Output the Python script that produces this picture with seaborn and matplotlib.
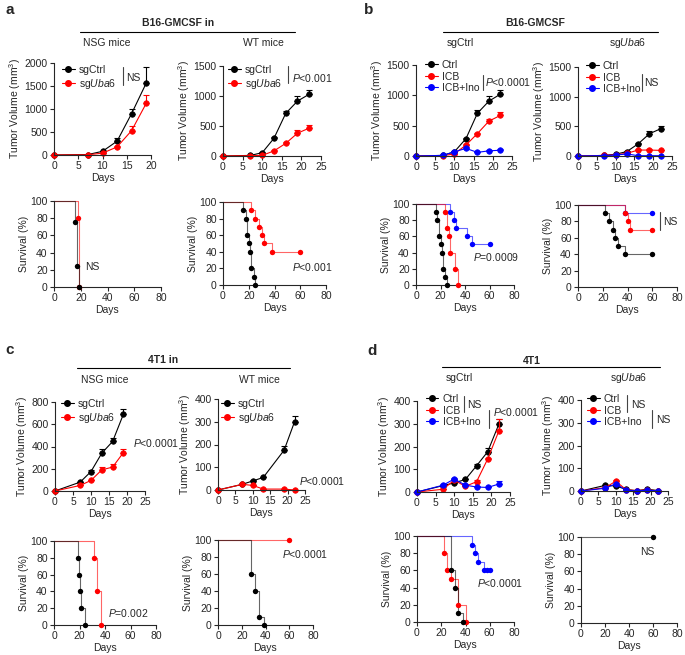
import numpy as np
import matplotlib
matplotlib.use("Agg")
import matplotlib.pyplot as plt
import seaborn as sns
from matplotlib.lines import Line2D

sns.set_style("ticks")
plt.rcParams["font.family"] = ["Liberation Sans", "DejaVu Sans"]
plt.rcParams["mathtext.fontset"] = "custom"
plt.rcParams["mathtext.rm"] = "Liberation Sans"
plt.rcParams["mathtext.it"] = "Liberation Sans:italic"
plt.rcParams["mathtext.bf"] = "Liberation Sans:bold"

BLACK, RED, BLUE = "#000000", "#ff0000", "#0000ff"
UBA6 = "sg$\\it{Uba6}$"

## ---- data: tumour growth (mean, upper error) ----
days_6 = [0, 7, 10, 13, 16, 19]
days_7 = [0, 7, 10, 13, 16, 19, 22]

a_nsg_ctrl = [0, 10, 80, 300, 900, 1560]
a_nsg_ctrl_err = [0, 0, 10, 60, 100, 360]
a_nsg_uba6 = [0, 5, 40, 175, 530, 1120]
a_nsg_uba6_err = [0, 0, 0, 20, 110, 190]

a_wt_ctrl = [0, 10, 55, 295, 710, 915, 1030]
a_wt_ctrl_err = [0, 0, 10, 15, 40, 90, 70]
a_wt_uba6 = [0, 5, 10, 85, 210, 380, 465]
a_wt_uba6_err = [0, 0, 0, 10, 20, 50, 50]

b_ctrl_ctrl = [0, 10, 70, 285, 705, 905, 1020]
b_ctrl_ctrl_err = [0, 0, 10, 15, 50, 90, 70]
b_ctrl_icb = [0, 5, 35, 180, 370, 575, 670]
b_ctrl_icb_err = [0, 0, 5, 10, 15, 35, 50]
b_ctrl_ino = [0, 10, 70, 125, 60, 85, 95]
b_ctrl_ino_err = [0, 0, 5, 30, 10, 15, 25]

b_uba_ctrl = [0, 10, 30, 75, 205, 375, 460]
b_uba_ctrl_err = [0, 0, 5, 10, 20, 40, 50]
b_uba_icb = [0, 10, 20, 45, 100, 100, 95]
b_uba_icb_err = [0, 0, 0, 5, 10, 10, 10]
b_uba_ino = [0, 8, 15, 35, 5, 5, 5]
b_uba_ino_err = [0, 0, 0, 5, 0, 0, 0]

days_c_wt = [0, 7, 10, 13, 19, 22]
c_nsg_ctrl = [0, 80, 175, 340, 445, 690]
c_nsg_ctrl_err = [0, 5, 15, 35, 30, 45]
c_nsg_uba6 = [0, 50, 95, 190, 215, 345]
c_nsg_uba6_err = [0, 5, 5, 25, 25, 30]
c_wt_ctrl = [0, 25, 40, 55, 175, 300]
c_wt_ctrl_err = [0, 3, 3, 3, 20, 25]
c_wt_uba6 = [0, 25, 20, 4, 4, 0]
c_wt_uba6_err = [0, 3, 3, 0, 0, 0]

d_ctrl_ctrl = [0, 28, 40, 55, 115, 177, 298]
d_ctrl_ctrl_err = [0, 3, 5, 3, 10, 18, 25]
d_ctrl_icb = [0, 12, 52, 25, 45, 145, 268]
d_ctrl_icb_err = [0, 3, 5, 3, 8, 5, 55]
d_ctrl_ino = [0, 30, 57, 30, 22, 20, 35]
d_ctrl_ino_err = [0, 3, 3, 3, 3, 3, 12]

d_uba_ctrl = [0, 25, 22, 7, 1, 8, 2]
d_uba_ctrl_err = [0, 3, 5, 0, 0, 2, 0]
d_uba_icb = [0, 15, 43, 5, 2, 5, 1]
d_uba_icb_err = [0, 3, 5, 0, 0, 0, 0]
d_uba_ino = [0, 12, 32, 3, 1, 3, 1]
d_uba_ino_err = [0, 0, 3, 0, 0, 0, 0]

## ---- data: survival (time, % surviving) ----
a_nsg_surv_ctrl_t, a_nsg_surv_ctrl_s = [0, 16, 17, 19], [100, 75, 25, 0]
a_nsg_surv_uba6_t, a_nsg_surv_uba6_s = [0, 18, 19], [100, 80, 0]
a_wt_surv_ctrl_t = [0, 15.5, 17.5, 19, 20, 21, 22, 24, 25]
a_wt_surv_ctrl_s = [100, 90, 80, 60, 50, 40, 20, 10, 0]
a_wt_surv_uba6_t = [0, 22, 25, 28, 30, 32, 38, 60]
a_wt_surv_uba6_s = [100, 90, 80, 70, 60, 50, 40, 40]

b_ctrl_surv_ctrl_t = [0, 16, 17.5, 19, 20, 21, 22, 24, 25]
b_ctrl_surv_ctrl_s = [100, 90, 80, 60, 50, 40, 20, 10, 0]
b_ctrl_surv_icb_t = [0, 24, 25, 27, 28, 32, 34]
b_ctrl_surv_icb_s = [100, 90, 70, 60, 40, 20, 0]
b_ctrl_surv_ino_t = [0, 28, 31, 33, 42, 46, 60]
b_ctrl_surv_ino_s = [100, 90, 80, 70, 60, 50, 50]
b_uba_surv_ctrl_t = [0, 22, 25, 28, 30, 32, 38, 60]
b_uba_surv_ctrl_s = [100, 90, 80, 70, 60, 50, 40, 40]
b_uba_surv_icb_t, b_uba_surv_icb_s = [0, 38, 40, 42, 60], [100, 90, 80, 70, 70]
b_uba_surv_ino_t, b_uba_surv_ino_s = [0, 38, 60], [100, 90, 90]

c_nsg_surv_ctrl_t = [0, 18.5, 19.5, 20.5, 21.5, 24.5]
c_nsg_surv_ctrl_s = [100, 80, 60, 40, 20, 0]
c_nsg_surv_uba6_t, c_nsg_surv_uba6_s = [0, 31, 34, 37], [100, 80, 40, 0]
c_wt_surv_ctrl_t, c_wt_surv_ctrl_s = [0, 28, 31.5, 34.5, 38.5], [100, 60, 40, 10, 0]
c_wt_surv_uba6_t, c_wt_surv_uba6_s = [0, 60], [100, 100]

d_ctrl_surv_icb_t, d_ctrl_surv_icb_s = [0, 22, 25, 28, 34, 40], [100, 80, 60, 50, 20, 0]
d_ctrl_surv_ctrl_t, d_ctrl_surv_ctrl_s = [0, 28, 31, 34, 38], [100, 60, 40, 10, 0]
d_ctrl_surv_ino_t = [0, 45, 47.5, 50, 55, 57.5, 60]
d_ctrl_surv_ino_s = [100, 90, 80, 70, 60, 60, 60]
d_uba_surv_ctrl_t, d_uba_surv_ctrl_s = [0, 60], [100, 100]

## ---- figure helpers (pixel coords of the 685x655 canvas) ----
W, H = 685, 655
fig = plt.figure(figsize=(6.85, 6.55), dpi=100)
FS = 7.5


def add_ax(x0, x1, y0, y1):
    return fig.add_axes([x0 / W, 1 - y1 / H, (x1 - x0) / W, (y1 - y0) / H])


def style(ax, xmax, xstep, ymax, ystep, ylabel):
    ax.set_xlim(0, xmax)
    ax.set_ylim(0, ymax)
    ax.set_xticks(np.arange(0, xmax + 1, xstep))
    ax.set_yticks(np.arange(0, ymax + 1, ystep))
    sns.despine(ax=ax)
    for sp in ax.spines.values():
        sp.set_linewidth(0.8)
    ax.tick_params(labelsize=FS, length=3, width=0.8, pad=1.5)
    ax.set_xlabel("Days", fontsize=FS, labelpad=1)
    ax.set_ylabel(ylabel, fontsize=FS, labelpad=1)


def growth(ax, days, curves):
    for vals, errs, color in curves:
        ax.errorbar(days, vals, yerr=[np.zeros(len(errs)), errs], fmt="none",
                    ecolor=color, elinewidth=0.8, capsize=2, capthick=0.8, clip_on=False)
        sns.lineplot(x=days, y=vals, ax=ax, color=color, marker="o", markersize=4,
                     markeredgecolor=color, markeredgewidth=0.5, linewidth=0.8,
                     estimator=None, clip_on=False)


def km(ax, t, s, color):
    sns.lineplot(x=t, y=s, ax=ax, color=color, drawstyle="steps-post", linewidth=0.8,
                 alpha=0.6, estimator=None, sort=False, clip_on=False)
    sns.scatterplot(x=t[1:], y=s[1:], ax=ax, color=color, s=15, linewidth=0,
                    clip_on=False, zorder=3)


def legend(ax, labels, colors, x, y):
    handles = [Line2D([], [], color=c, marker="o", markersize=4, lw=0.8) for c in colors]
    ax.legend(handles, labels, loc="upper left", bbox_to_anchor=(x / W, 1 - y / H),
              bbox_transform=fig.transFigure, frameon=False, fontsize=FS,
              handlelength=1.2, handletextpad=0.4, labelspacing=0.15,
              borderpad=0, borderaxespad=0)


def text(x, y, s, ha="left", **kw):
    fig.text(x / W, 1 - y / H, s, ha=ha, va="center", fontsize=kw.pop("fontsize", FS), **kw)


def vline(x, y0, y1, color="#444444"):
    fig.add_artist(Line2D([x / W, x / W], [1 - y0 / H, 1 - y1 / H],
                          transform=fig.transFigure, color=color, lw=0.8))


def hline(x0, x1, y):
    fig.add_artist(Line2D([x0 / W, x1 / W], [1 - y / H, 1 - y / H],
                          transform=fig.transFigure, color="black", lw=0.8))


TV = "Tumor Volume (mm$^3$)"
SV = "Survival (%)"

## ---- panel a ----
ax = add_ax(54, 151, 63, 155)
growth(ax, days_6, [(a_nsg_ctrl, a_nsg_ctrl_err, BLACK), (a_nsg_uba6, a_nsg_uba6_err, RED)])
style(ax, 20, 5, 2000, 500, TV)
legend(ax, ["sgCtrl", UBA6], [BLACK, RED], 62, 65)

ax = add_ax(223, 321, 66, 156)
growth(ax, days_7, [(a_wt_ctrl, a_wt_ctrl_err, BLACK), (a_wt_uba6, a_wt_uba6_err, RED)])
style(ax, 25, 5, 1500, 500, TV)
legend(ax, ["sgCtrl", UBA6], [BLACK, RED], 228, 65)

ax = add_ax(54, 161, 201, 287)
km(ax, a_nsg_surv_uba6_t, a_nsg_surv_uba6_s, RED)
km(ax, a_nsg_surv_ctrl_t, a_nsg_surv_ctrl_s, BLACK)
style(ax, 80, 20, 100, 20, SV)

ax = add_ax(223, 326, 202, 285)
km(ax, a_wt_surv_uba6_t, a_wt_surv_uba6_s, RED)
km(ax, a_wt_surv_ctrl_t, a_wt_surv_ctrl_s, BLACK)
style(ax, 80, 20, 100, 20, SV)

## ---- panel b ----
ax = add_ax(416, 512, 65, 156)
growth(ax, days_7, [(b_ctrl_ctrl, b_ctrl_ctrl_err, BLACK), (b_ctrl_icb, b_ctrl_icb_err, RED),
                    (b_ctrl_ino, b_ctrl_ino_err, BLUE)])
style(ax, 25, 5, 1500, 500, TV)
legend(ax, ["Ctrl", "ICB", "ICB+Ino"], [BLACK, RED, BLUE], 425, 60)

ax = add_ax(578, 672, 67, 156)
growth(ax, days_7, [(b_uba_ctrl, b_uba_ctrl_err, BLACK), (b_uba_icb, b_uba_icb_err, RED),
                    (b_uba_ino, b_uba_ino_err, BLUE)])
style(ax, 25, 5, 1500, 500, TV)
legend(ax, ["Ctrl", "ICB", "ICB+Ino"], [BLACK, RED, BLUE], 586, 61)

ax = add_ax(416, 514, 204, 285)
km(ax, b_ctrl_surv_ino_t, b_ctrl_surv_ino_s, BLUE)
km(ax, b_ctrl_surv_icb_t, b_ctrl_surv_icb_s, RED)
km(ax, b_ctrl_surv_ctrl_t, b_ctrl_surv_ctrl_s, BLACK)
style(ax, 80, 20, 100, 20, SV)

ax = add_ax(578, 677, 205, 287)
km(ax, b_uba_surv_ino_t, b_uba_surv_ino_s, BLUE)
km(ax, b_uba_surv_icb_t, b_uba_surv_icb_s, RED)
km(ax, b_uba_surv_ctrl_t, b_uba_surv_ctrl_s, BLACK)
style(ax, 80, 20, 100, 20, SV)

## ---- panel c ----
ax = add_ax(55, 145, 402, 491)
growth(ax, days_6, [(c_nsg_ctrl, c_nsg_ctrl_err, BLACK), (c_nsg_uba6, c_nsg_uba6_err, RED)])
style(ax, 25, 5, 800, 200, TV)
legend(ax, ["sgCtrl", UBA6], [BLACK, RED], 61, 399)

ax = add_ax(218, 305, 399, 490)
growth(ax, days_c_wt, [(c_wt_ctrl, c_wt_ctrl_err, BLACK), (c_wt_uba6, c_wt_uba6_err, RED)])
style(ax, 25, 5, 400, 100, TV)
legend(ax, ["sgCtrl", UBA6], [BLACK, RED], 221, 399)

ax = add_ax(54, 156, 541, 625)
km(ax, c_nsg_surv_uba6_t, c_nsg_surv_uba6_s, RED)
km(ax, c_nsg_surv_ctrl_t, c_nsg_surv_ctrl_s, BLACK)
style(ax, 80, 20, 100, 20, SV)

ax = add_ax(218, 313, 540, 625)
km(ax, c_wt_surv_uba6_t, c_wt_surv_uba6_s, RED)
km(ax, c_wt_surv_ctrl_t, c_wt_surv_ctrl_s, BLACK)
style(ax, 80, 20, 100, 20, SV)

## ---- panel d ----
ax = add_ax(417, 510, 401, 492)
growth(ax, days_7, [(d_ctrl_ctrl, d_ctrl_ctrl_err, BLACK), (d_ctrl_icb, d_ctrl_icb_err, RED),
                    (d_ctrl_ino, d_ctrl_ino_err, BLUE)])
style(ax, 25, 5, 400, 100, TV)
legend(ax, ["Ctrl", "ICB", "ICB+Ino"], [BLACK, RED, BLUE], 426, 394)

ax = add_ax(581, 668, 400, 491)
growth(ax, days_7, [(d_uba_ctrl, d_uba_ctrl_err, BLACK), (d_uba_icb, d_uba_icb_err, RED),
                    (d_uba_ino, d_uba_ino_err, BLUE)])
style(ax, 25, 5, 400, 100, TV)
legend(ax, ["Ctrl", "ICB", "ICB+Ino"], [BLACK, RED, BLUE], 587, 394)

ax = add_ax(417, 514, 536, 622)
km(ax, d_ctrl_surv_ino_t, d_ctrl_surv_ino_s, BLUE)
km(ax, d_ctrl_surv_icb_t, d_ctrl_surv_icb_s, RED)
km(ax, d_ctrl_surv_ctrl_t, d_ctrl_surv_ctrl_s, BLACK)
style(ax, 80, 20, 100, 20, SV)

ax = add_ax(581, 677, 537, 623)
km(ax, d_uba_surv_ctrl_t, d_uba_surv_ctrl_s, BLACK)
style(ax, 80, 20, 100, 20, SV)

## ---- headers, letters and stats ----
for x, y, s in [(5, 10, "a"), (364, 10, "b"), (5, 350, "c"), (367, 351, "d")]:
    text(x, y, s, fontsize=11, fontweight="bold")

text(178, 23, "B16-GMCSF in", ha="center", fontweight="bold")
hline(80, 295, 32)
text(107, 43, "NSG mice", ha="center")
text(263, 43, "WT mice", ha="center")

text(535, 23, "B16-GMCSF", ha="center", fontweight="bold")
hline(443, 658, 32)
text(460, 43, "sgCtrl", ha="center")
text(628, 43, UBA6, ha="center")

text(163, 360, "4T1 in", ha="center", fontweight="bold")
hline(77, 290, 368)
text(105, 380, "NSG mice", ha="center")
text(259, 380, "WT mice", ha="center")

text(532, 361, "4T1", ha="center", fontweight="bold")
hline(442, 660, 367)
text(459, 378, "sgCtrl", ha="center")
text(629, 378, UBA6, ha="center")

vline(123, 67, 85)
text(126, 78, "NS")
vline(288, 66, 83)
text(292, 78, "$P$<0.001")
text(85, 267, "NS")
text(292, 267, "$P$<0.001")

vline(483, 75, 90)
text(485, 82, "$P$<0.0001")
vline(642, 74, 91)
text(644, 83, "NS")
text(473, 257, "$P$=0.0009")
vline(660, 212, 230)
text(663, 222, "NS")

text(133, 443, "$P$<0.0001")
text(299, 481, "$P$<0.0001")
text(108, 613, "$P$=0.002")
text(282, 554, "$P$<0.0001")

vline(464, 396, 412)
text(467, 405, "NS")
vline(489, 410, 428)
text(493, 412, "$P$<0.0001")
vline(627, 395, 412)
text(631, 405, "NS")
vline(652, 410, 428)
text(656, 420, "NS")
text(477, 583, "$P$<0.0001")
text(647, 552, "NS", ha="center")

fig.savefig("out.png", dpi=100)
